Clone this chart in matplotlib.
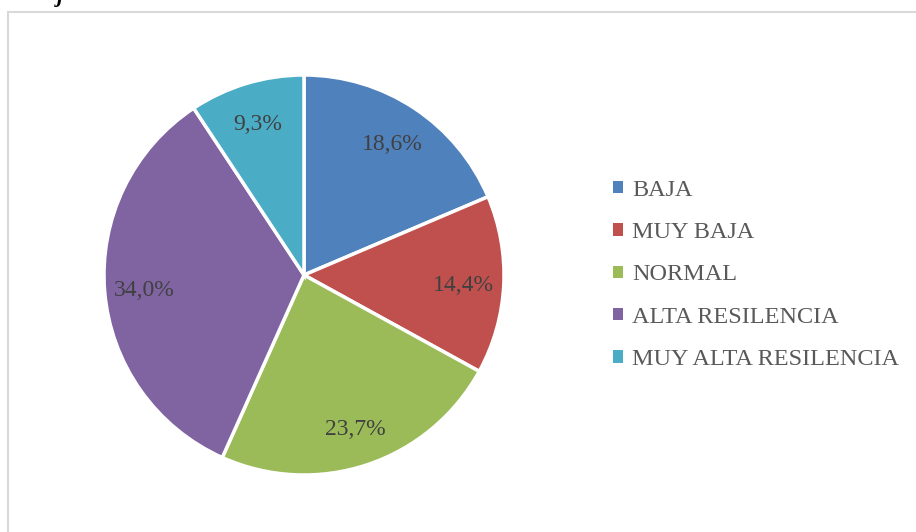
import matplotlib
matplotlib.use('Agg')
from matplotlib import pyplot as plt
from matplotlib.patches import Rectangle

categorias = ['BAJA', 'MUY BAJA', 'NORMAL', 'ALTA RESILENCIA', 'MUY ALTA RESILENCIA']
porcentajes = [18.6, 14.4, 23.7, 34.0, 9.3]
colores = ['#4F81BD', '#C0504D', '#9BBB59', '#8064A2', '#4BACC6']

W, H = 916, 532
fig = plt.figure(figsize=(W / 100, H / 100), dpi=100)

# marco gris del grafico
fig.patches.append(Rectangle((8 / W, -0.1), 1.1, (H - 12) / H + 0.1,
                             transform=fig.transFigure, fill=False,
                             edgecolor='#D9D9D9', linewidth=1.5))

# resto del titulo cortado arriba
fig.text(57 / W, 1 - 2 / H, 'j', fontsize=16, fontstyle='italic', fontweight='bold',
         family='Liberation Serif', va='baseline', color='black')

cx, cy, r = 304, 275, 200
ax = fig.add_axes([(cx - r) / W, (H - cy - r) / H, 2 * r / W, 2 * r / H])

wedges, textos = ax.pie(porcentajes, colors=colores, startangle=90, counterclock=False,
                        wedgeprops=dict(edgecolor='white', linewidth=2.5),
                        labels=[('%.1f%%' % p).replace('.', ',') for p in porcentajes],
                        labeldistance=0.8,
                        textprops=dict(family='Liberation Serif', fontsize=17, color='#404040'))
for t in textos:
    t.set_horizontalalignment('center')
    t.set_verticalalignment('center_baseline')
ax.set_xlim(-1, 1)
ax.set_ylim(-1, 1)
ax.set_aspect('equal')

leg = fig.legend(wedges, categorias, loc='center left', bbox_to_anchor=(591 / W, 1 - 275 / H),
                 frameon=False, prop=dict(family='Liberation Serif', size=17.5),
                 handlelength=0.4, handleheight=0.4, handletextpad=0.4,
                 labelspacing=0.88, labelcolor='#595959')
for h in leg.legend_handles:
    h.set_linewidth(0)

fig.savefig('out.png', dpi=100)
